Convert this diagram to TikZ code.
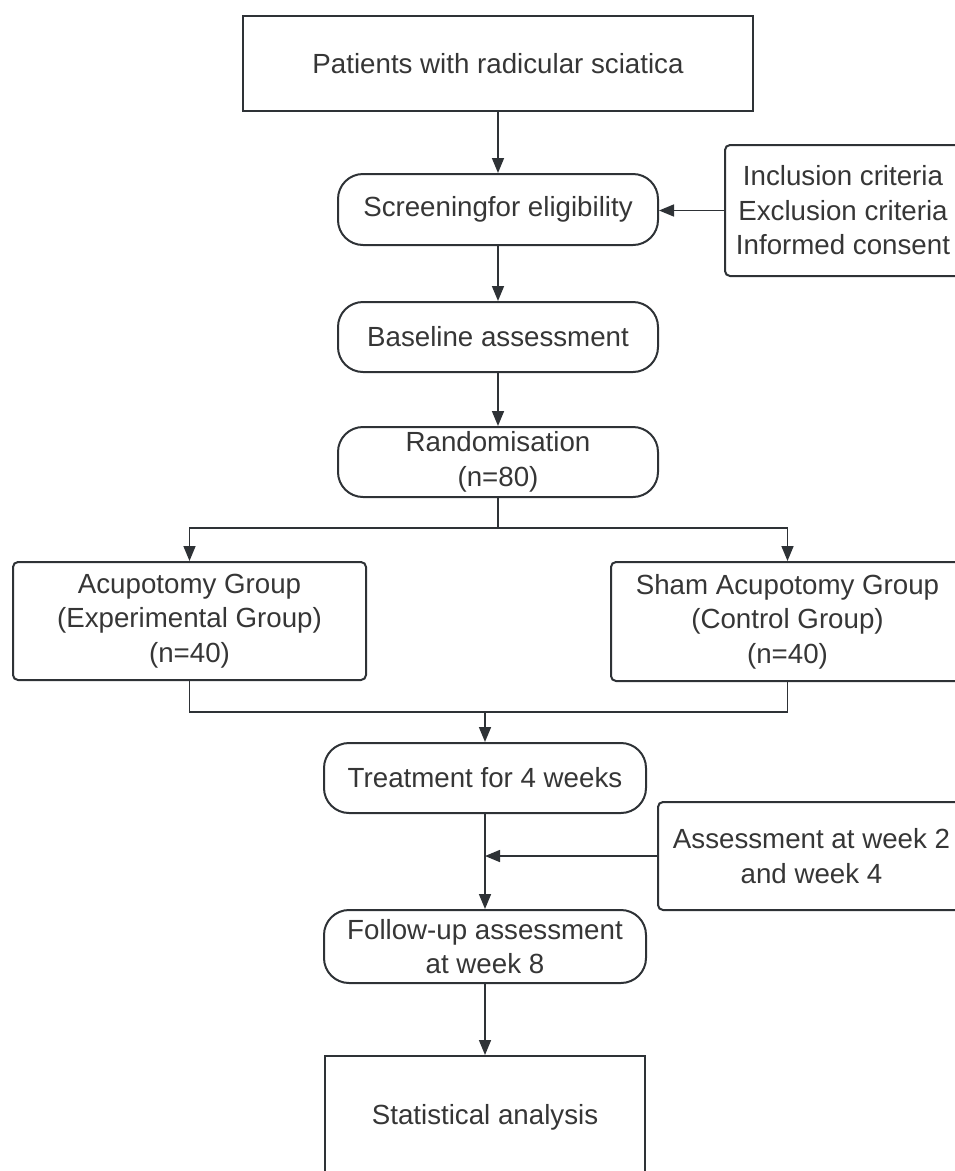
\documentclass[tikz,border=0pt]{standalone}
\usepackage{fontspec}
\setmainfont{Liberation Sans}
\usetikzlibrary{arrows.meta}
\definecolor{linegray}{HTML}{2E3236}
\definecolor{textgray}{HTML}{363636}
\tikzset{
    basesty/.style={draw=linegray,line width=2pt,inner sep=0pt,align=center,text=textgray,
        font=\fontsize{27.7}{34.5}\selectfont},
    boxsty/.style={basesty,rectangle},
    pillsty/.style={basesty,rectangle,rounded corners=25pt,minimum width=320pt},
    sidesty/.style={basesty,rectangle,rounded corners=5pt},
    linesty/.style={draw=linegray,line width=1.6pt},
    arrsty/.style={linesty,->},
}

\begin{document}
\begin{tikzpicture}[x=1pt,y=-1pt,>={Triangle[length=15pt,width=12pt]}]
\clip (0,0) rectangle (955,1171);
\useasboundingbox (0,0) rectangle (955,1171);

\node[boxsty,minimum width=510pt,minimum height=95pt] (pat) at (498,63.5) {Patients with radicular sciatica};
\node[pillsty,minimum height=71pt] (scr) at (498,209.5) {Screeningfor eligibility};
\node[sidesty,minimum width=236pt,minimum height=131pt] (incl) at (843,210.5) {Inclusion criteria\\Exclusion criteria\\Informed consent};
\node[pillsty,minimum height=70pt] (base) at (498,337) {Baseline assessment};
\node[pillsty,minimum height=70pt] (rand) at (498,462) {Randomisation\\(n=80)};
\node[sidesty,minimum width=353pt,minimum height=118pt] (acu) at (189.5,621) {Acupotomy Group\\(Experimental Group)\\(n=40)};
\node[sidesty,minimum width=353pt,minimum height=119pt] (sham) at (787.5,621.5) {Sham Acupotomy Group\\(Control Group)\\(n=40)};
\node[pillsty,minimum width=322pt,minimum height=70pt] (treat) at (485,778) {Treatment for 4 weeks};
\node[sidesty,minimum width=307pt,minimum height=108pt] (assess) at (811.5,856) {Assessment at week 2\\and week 4};
\node[pillsty,minimum width=322pt,minimum height=73pt] (follow) at (485,946.5) {Follow-up assessment\\at week 8};
\node[boxsty,minimum width=320pt,minimum height=122pt] (stat) at (485,1117) {Statistical analysis};

\coordinate (split) at (498,528);
\coordinate (merge) at (485,712);

\draw[arrsty] (pat) -- (scr);
\draw[arrsty] (incl.west) -- (incl.west -| scr.east);
\draw[arrsty] (scr) -- (base);
\draw[arrsty] (base) -- (rand);
\draw[linesty] (rand) -- (split);
\draw[arrsty] (split) -| (acu);
\draw[arrsty] (split) -| (sham);
\draw[linesty] (acu) |- (merge) -| (sham);
\draw[arrsty] (merge) -- (treat);
\draw[arrsty] (treat) -- (follow);
\draw[arrsty] (assess) -- (assess -| treat);
\draw[arrsty] (follow) -- (stat);
\end{tikzpicture}
\end{document}
